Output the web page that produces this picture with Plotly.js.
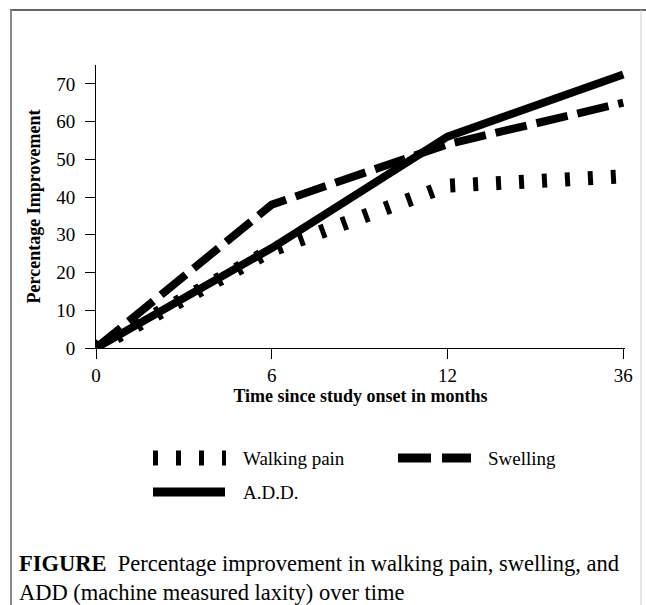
<!DOCTYPE html>
<html>
<head>
<meta charset="utf-8">
<script src="https://cdn.plot.ly/plotly-3.0.1.min.js"></script>
<style>
html,body{margin:0;padding:0;background:#fff;}
#chart{width:646px;height:605px;}
</style>
</head>
<body>
<div id="chart"></div>
<script>
// ---- data ----
var months = ['0', '6', '12', '36'];
var walkingPain = [0, 26, 43, 45.5];
var swelling = [0, 38, 54, 65];
var addLaxity = [0, 26.5, 56, 72.5];
var seriesNames = ['Walking pain', 'Swelling', 'A.D.D.'];
var yTicks = [0, 10, 20, 30, 40, 50, 60, 70];
var xTitle = 'Time since study onset in months';
var yTitle = 'Percentage Improvement';
var captionBold = 'FIGURE';
var captionText = '&nbsp; Percentage improvement in walking pain, swelling, and<br>ADD (machine measured laxity) over time';

// ---- layout geometry (pixels) ----
var W = 646, H = 605;
var M = {l: 96, r: 21, t: 65, b: 257};
var pw = W - M.l - M.r, ph = H - M.t - M.b;
function px(x) { return (x - M.l) / pw; }
function py(y) { return (H - M.b - y) / ph; }

var FONT = '"Liberation Serif", "DejaVu Serif", serif';

var styles = {
  walk: {color: '#000', width: 14, dash: '5px,18px'},
  swell: {color: '#000', width: 8, dash: '32px,10px'},
  add: {color: '#000', width: 8, dash: 'solid'}
};

var traces = [
  {x: months, y: walkingPain, name: seriesNames[0], type: 'scatter', mode: 'lines', line: styles.walk, showlegend: false},
  {x: months, y: swelling, name: seriesNames[1], type: 'scatter', mode: 'lines', line: styles.swell, showlegend: false},
  {x: months, y: addLaxity, name: seriesNames[2], type: 'scatter', mode: 'lines', line: styles.add, showlegend: false}
];

function hline(x0, x1, y, line) {
  return {type: 'line', xref: 'paper', yref: 'paper', x0: px(x0), x1: px(x1), y0: py(y), y1: py(y), line: line, layer: 'above'};
}

var shapes = [
  // legend samples
  hline(153, 226, 458, {color: '#000', width: 15, dash: '5px,18px'}),
  hline(398, 471, 458, {color: '#000', width: 9, dash: '33px,11px'}),
  hline(153, 225, 492, {color: '#000', width: 9}),
  // outer frame
  {type: 'line', xref: 'paper', yref: 'paper', x0: px(10), x1: px(646), y0: py(10), y1: py(10), line: {color: '#333', width: 1.5}},
  {type: 'line', xref: 'paper', yref: 'paper', x0: px(11), x1: px(11), y0: py(10), y1: py(606), line: {color: '#888', width: 2}},
  {type: 'line', xref: 'paper', yref: 'paper', x0: px(641), x1: px(641), y0: py(10), y1: py(606), line: {color: '#ccc', width: 1}}
];

var LEG = {family: FONT, size: 19, color: '#000'};
var annotations = [
  {xref: 'paper', yref: 'paper', x: px(241), y: py(458), xanchor: 'left', yanchor: 'middle', showarrow: false, text: seriesNames[0], font: LEG},
  {xref: 'paper', yref: 'paper', x: px(486), y: py(458), xanchor: 'left', yanchor: 'middle', showarrow: false, text: seriesNames[1], font: LEG},
  {xref: 'paper', yref: 'paper', x: px(241), y: py(492), xanchor: 'left', yanchor: 'middle', showarrow: false, text: seriesNames[2], font: LEG},
  {xref: 'paper', yref: 'paper', x: px(17), y: py(578), xanchor: 'left', yanchor: 'middle', align: 'left', showarrow: false,
   text: '<b>' + captionBold + '</b>' + captionText, font: {family: FONT, size: 22.5, color: '#000'}}
];

var layout = {
  width: W, height: H,
  margin: M,
  paper_bgcolor: '#fff', plot_bgcolor: '#fff',
  showlegend: false,
  font: {family: FONT, color: '#000', size: 18},
  xaxis: {
    type: 'category', range: [0, 3.01],
    showgrid: false, zeroline: false,
    showline: true, linecolor: '#000', linewidth: 1,
    ticks: 'outside', ticklen: 10, tickwidth: 1, tickcolor: '#000',
    ticklabelstandoff: 0,
    tickfont: {family: FONT, size: 19},
    title: {text: '<b>' + xTitle + '</b>', font: {family: FONT, size: 18}, standoff: 0}
  },
  yaxis: {
    range: [0, 75], tickvals: yTicks,
    showgrid: false, zeroline: false,
    showline: true, linecolor: '#000', linewidth: 1,
    ticks: 'outside', ticklen: 10, tickwidth: 1, tickcolor: '#000',
    ticklabelstandoff: 6,
    tickfont: {family: FONT, size: 19},
    title: {text: '<b>' + yTitle + '</b>', font: {family: FONT, size: 18}, standoff: 10}
  },
  shapes: shapes,
  annotations: annotations
};

Plotly.newPlot('chart', traces, layout, {displayModeBar: false, staticPlot: true});
</script>
</body>
</html>
